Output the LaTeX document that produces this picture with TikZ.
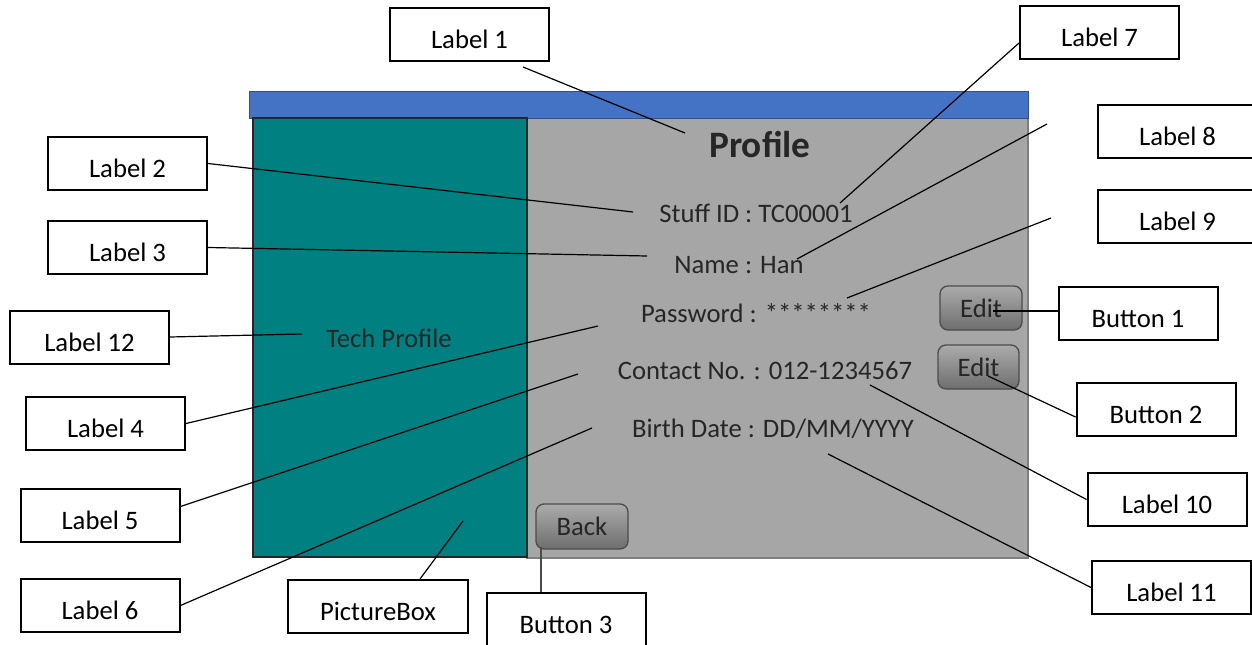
\documentclass[tikz,border=0pt]{standalone}
\usepackage{fontspec}
\setmainfont{Carlito}
\usetikzlibrary{calc}
\definecolor{barblue}{HTML}{4472C4}
\definecolor{barline}{HTML}{2F528F}
\definecolor{picteal}{HTML}{008080}
\definecolor{panelgray}{HTML}{A6A6A6}
\definecolor{edgegray}{HTML}{7F7F7F}
\definecolor{txtgray}{HTML}{262626}
\definecolor{btntop}{HTML}{ABABAB}
\definecolor{btnbot}{HTML}{6E6E6E}
\tikzset{
  lbl/.style={draw, line width=1.5pt, fill=white, inner sep=0pt,
    minimum width=119.25pt, minimum height=39.75pt,
    text height=21pt, text depth=0pt, font=\fontsize{20}{24}\selectfont},
  txt/.style={anchor=base, text=txtgray, font=\fontsize{20}{24}\selectfont},
  btn/.style={draw=black!70, line width=1pt, rounded corners=6pt,
    top color=btntop, bottom color=btnbot, inner sep=0pt,
    text=txtgray, font=\fontsize{20}{24}\selectfont},
  lk/.style={line width=0.9pt}
}
\begin{document}
\begin{tikzpicture}[x=0.75pt,y=-0.75pt]
    \useasboundingbox (0,0) rectangle (1252,645);
    % form
    \fill [panelgray] (526,118) rectangle (1028,558);
    \draw [edgegray, line width=1.5pt] (1028,118) -- (1028,558) -- (526,558);
    \draw [barline, fill=barblue, line width=0.6pt] (249,91) rectangle (1028,118);
    \draw [black!85, fill=picteal, line width=1pt] (253,118) rectangle (527,557);
    \node [txt] (tech) at (389,347) {Tech Profile};
    \node [txt, font=\fontsize{28}{32}\selectfont\bfseries] (prof) at (760,158) {Profile};
    \node [txt] (sid) at (756,223) {Stuff ID : TC00001};
    \node [txt] (nm) at (739,273) {Name : Han};
    \node [txt] (pw) at (756,322) {Password : ********};
    \node [txt] (ct) at (765,379) {Contact No. : 012-1234567};
    \node [txt] (bd) at (773,437) {Birth Date : DD/MM/YYYY};
    \node [btn, minimum width=61.5pt, minimum height=33pt] (e1) at (981,308) {Edit};
    \node [btn, minimum width=60.75pt, minimum height=33pt] (e2) at (978.5,367) {Edit};
    \node [btn, minimum width=69pt, minimum height=33.75pt] (back) at (582,526.5) {Back};
    % labels
    \node [lbl] (l1) at (469.5,34.5) {Label 1};
    \node [lbl] (l2) at (127.5,163.5) {Label 2};
    \node [lbl] (l3) at (127.5,247.5) {Label 3};
    \node [lbl] (l4) at (105.5,423.5) {Label 4};
    \node [lbl] (l5) at (100,515.5) {Label 5};
    \node [lbl] (l6) at (100,605.5) {Label 6};
    \node [lbl] (l7) at (1099.5,33) {Label 7};
    \node [lbl] (l8) at (1177.5,132) {Label 8};
    \node [lbl] (l9) at (1177.5,217) {Label 9};
    \node [lbl] (l10) at (1167,499.5) {Label 10};
    \node [lbl] (l11) at (1171.5,587.5) {Label 11};
    \node [lbl] (l12) at (89.5,337) {Label 12};
    \node [lbl, minimum width=135pt] (pb) at (378,606.5) {PictureBox};
    \node [lbl] (b1) at (1138,313.5) {Button 1};
    \node [lbl] (b2) at (1156,409) {Button 2};
    \node [lbl] (b3) at (566,619.5) {Button 3};
    % end points
    \coordinate (p1) at (685,133);
    \coordinate (p2) at (633,212);
    \coordinate (p3) at (647,256);
    \coordinate (p4) at (598,326);
    \coordinate (p5) at (578,374);
    \coordinate (p6) at (592,428);
    \coordinate (p7) at (840,203);
    \coordinate (p8) at (797,259);
    \coordinate (p9) at (847,298);
    \coordinate (p10) at (870,385);
    \coordinate (p11) at (828,454);
    \coordinate (p12) at (302,334);
    \coordinate (ppb) at (463,521);
    \coordinate (pe1) at (993,311);
    \coordinate (pe2) at (988,376);
    \coordinate (pbk) at (541,547);
    \coordinate (s1) at (523,67);
    \coordinate (s8) at (1047,124);
    \coordinate (s9) at (1051,218);
    % connectors
    \draw [lk] (s1) -- (p1);
    \draw [lk] (l2.east) -- (p2);
    \draw [lk] (l3.east) -- (p3);
    \draw [lk] (l4.east) -- (p4);
    \draw [lk] ([yshift=6.75pt]l5.east) -- (p5);
    \draw [lk] (l6.east) -- (p6);
    \draw [lk] ([yshift=-7.5pt]l7.west) -- (p7);
    \draw [lk] (s8) -- (p8);
    \draw [lk] (s9) -- (p9);
    \draw [lk] (l10.west) -- (p10);
    \draw [lk] (l11.west) -- (p11);
    \draw [lk] (l12.east) -- (p12);
    \draw [lk] ([xshift=31.5pt]pb.north) -- (ppb);
    \draw [lk] (pe1) -- (pe1 -| b1.west);
    \draw [lk] (pe2) -- ([yshift=-6pt]b2.west);
    \draw [lk, black!70] (pbk) -- (pbk |- b3.north);
\end{tikzpicture}
\end{document}
